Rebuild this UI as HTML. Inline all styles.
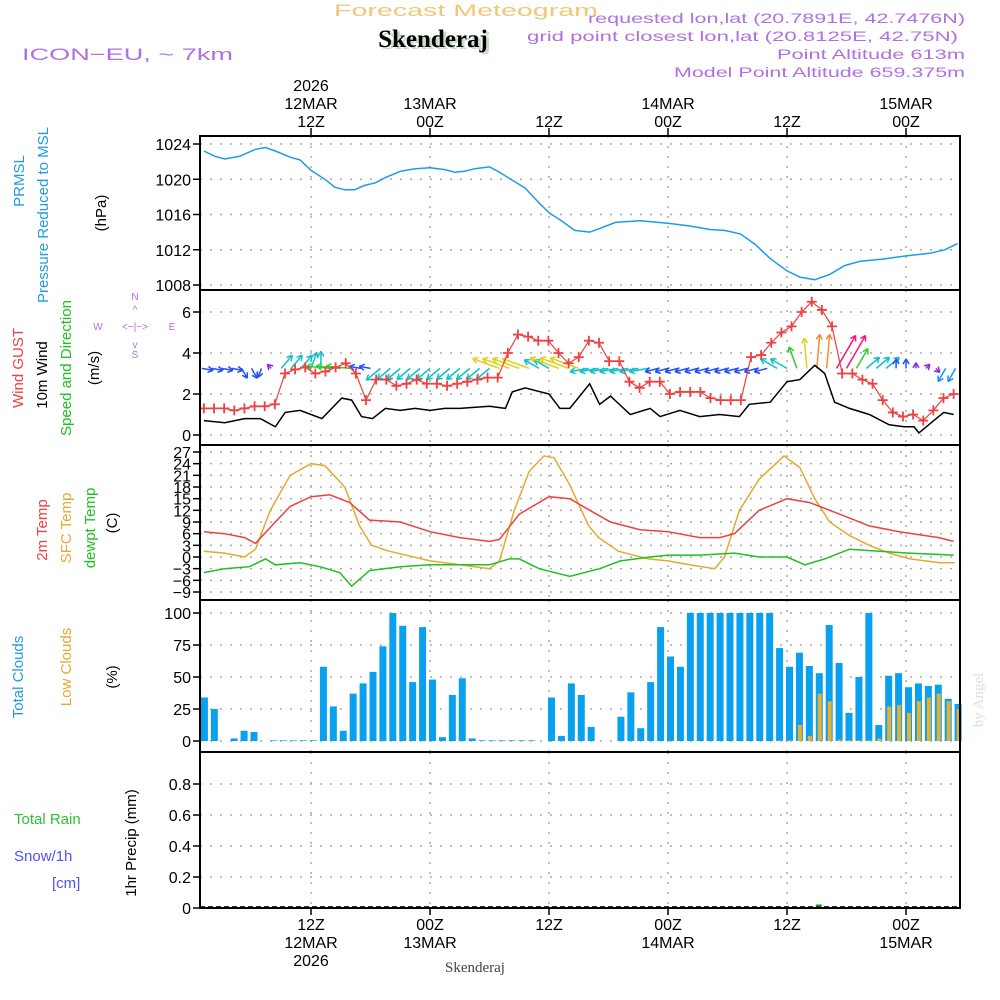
<!DOCTYPE html>
<html><head><meta charset="utf-8"><style>
body{margin:0;background:#fff}
svg{display:block;font-family:"Liberation Sans",sans-serif}
</style></head><body>
<svg id="chart" width="1000" height="1000" viewBox="0 0 1000 1000" xmlns="http://www.w3.org/2000/svg">
<rect width="1000" height="1000" fill="#fff"/>
<g>
<text x="334" y="16" font-size="17" fill="#f0c878" textLength="264" lengthAdjust="spacingAndGlyphs">Forecast Meteogram</text>
<text x="436" y="49" font-size="25" font-weight="bold" fill="#c8dcc8" text-anchor="middle" font-family="Liberation Serif,serif">Skenderaj</text>
<text x="433" y="47" font-size="25" font-weight="bold" fill="#000" text-anchor="middle" font-family="Liberation Serif,serif">Skenderaj</text>
<text x="22" y="60" font-size="17" fill="#b070e0" textLength="211" lengthAdjust="spacingAndGlyphs">ICON−EU, ~ 7km</text>
<g font-size="14" fill="#b070e0">
<text x="588" y="23" textLength="377" lengthAdjust="spacingAndGlyphs">requested lon,lat (20.7891E, 42.7476N)</text>
<text x="527" y="41" textLength="431" lengthAdjust="spacingAndGlyphs">grid point closest lon,lat (20.8125E, 42.75N)</text>
<text x="777" y="59" textLength="188" lengthAdjust="spacingAndGlyphs">Point Altitude 613m</text>
<text x="674" y="77" textLength="291" lengthAdjust="spacingAndGlyphs">Model Point Altitude 659.375m</text>
</g>
</g>
<g id="grid"></g>
<g id="marks"></g>
<g id="axes"></g>
<g font-size="15">
<text transform="translate(24,181) rotate(-90)" fill="#1e9be8" text-anchor="middle">PRMSL</text>
<text transform="translate(48,215) rotate(-90)" fill="#1e9be8" text-anchor="middle">Pressure Reduced to MSL</text>
<text transform="translate(106,213) rotate(-90)" fill="#000" text-anchor="middle">(hPa)</text>
<text transform="translate(23,368) rotate(-90)" fill="#f04040" text-anchor="middle">Wind GUST</text>
<text transform="translate(47,375) rotate(-90)" fill="#000" text-anchor="middle">10m Wind</text>
<text transform="translate(71,368) rotate(-90)" fill="#20c020" text-anchor="middle">Speed and Direction</text>
<text transform="translate(99,368) rotate(-90)" fill="#000" text-anchor="middle">(m/s)</text>
<g font-size="10" fill="#b070e0" text-anchor="middle">
<text x="135" y="300">N</text><text x="135" y="358">S</text><text x="98" y="330">W</text><text x="172" y="330">E</text>
<text x="135" y="330">&lt;−|−&gt;</text><text x="135" y="313">^</text><text x="135" y="348">v</text>
</g>
<text transform="translate(47,530) rotate(-90)" fill="#f04040" text-anchor="middle">2m Temp</text>
<text transform="translate(71,528) rotate(-90)" fill="#e8a830" text-anchor="middle">SFC Temp</text>
<text transform="translate(95,528) rotate(-90)" fill="#20c020" text-anchor="middle">dewpt Temp</text>
<text transform="translate(117,523) rotate(-90)" fill="#000" text-anchor="middle">(C)</text>
<text transform="translate(23,677) rotate(-90)" fill="#1e9be8" text-anchor="middle">Total Clouds</text>
<text transform="translate(71,667) rotate(-90)" fill="#e8a830" text-anchor="middle">Low Clouds</text>
<text transform="translate(117,677) rotate(-90)" fill="#000" text-anchor="middle">(%)</text>
<text x="14" y="824" fill="#30c030">Total  Rain</text>
<text x="14" y="861" fill="#5050ff">Snow/1h</text>
<text x="52" y="888" fill="#5050ff">[cm]</text>
<text transform="translate(136,843) rotate(-90)" fill="#000" text-anchor="middle">1hr Precip (mm)</text>
</g>
<text transform="translate(983,700) rotate(-90)" font-size="15" fill="#d8e4d8" text-anchor="middle" font-family="Liberation Serif,serif">by Angel</text>
<text x="475" y="972" font-size="15" fill="#444" text-anchor="middle" font-family="Liberation Serif,serif">Skenderaj</text>
</svg>
<script>
const timeTickHours=[12,24,36,48,60,72];
const topLabels1=["12Z","00Z","12Z","00Z","12Z","00Z"];
const topLabels2=["12MAR","13MAR","","14MAR","","15MAR"];
const presTicks=[1008,1012,1016,1020,1024];
const presHours=[1.2,2.3,3.3,4.8,6.4,7.4,8.4,9.9,10.9,12,13.4,14.4,15.4,16.4,17.4,18.5,19.5,21,22.5,24,25.5,26.5,27.5,28.5,30,31,32,33.6,35,36,37.1,38.6,40.1,41.1,42.7,45.2,48,50.2,52.2,53.7,55.3,56.8,58.3,60,61.3,62.8,64.3,65.8,67.4,69.4,72,74.4,75.9,77.2];
const presVals=[1023.2,1022.6,1022.3,1022.6,1023.4,1023.6,1023.2,1022.5,1022.2,1021.0,1020.0,1019.1,1018.8,1018.8,1019.3,1019.6,1020.2,1020.9,1021.2,1021.3,1021.1,1020.8,1020.9,1021.2,1021.4,1020.8,1020.1,1019.0,1017.3,1016.2,1015.4,1014.2,1014.0,1014.4,1015.1,1015.3,1015.0,1014.7,1014.3,1014.2,1013.8,1012.6,1011.0,1009.6,1008.9,1008.6,1009.2,1010.2,1010.7,1010.9,1011.3,1011.6,1012.0,1012.7];
const windTicks=[0,2,4,6];
const windHours=[1.2,3.3,5.3,6.9,8.4,9.4,10.9,13.1,15.1,16.1,17.1,18.2,19.5,21,22.5,24,25.5,27,30,31.6,32.3,33.6,36,37.1,38.1,40.1,41.1,42.2,44.2,46.2,47.2,49.2,51.2,53.2,55.2,56.2,58.3,60,61.3,62.8,63.8,64.8,66.3,68.3,70.3,71.8,72.8,73.3,74.8,75.8,76.8];
const windVals=[0.7,0.6,0.8,0.8,0.4,1.1,1.2,0.8,1.8,1.7,0.9,0.8,1.3,1.2,1.3,1.2,1.3,1.3,1.4,1.3,2.1,2.3,2.0,1.3,1.3,2.5,1.5,1.9,1.0,1.3,0.9,1.2,0.9,1.0,0.9,1.5,1.6,2.6,2.7,3.4,3.0,1.6,1.3,1.0,0.5,0.4,0.4,0.1,0.7,1.1,1.0];
const gustVals=[1.3,1.3,1.3,1.2,1.3,1.4,1.4,1.5,3.0,3.2,3.3,3.0,3.1,3.3,3.5,3.0,1.7,2.7,2.7,2.4,2.5,2.7,2.5,2.5,2.4,2.5,2.6,2.7,2.8,2.8,4.0,4.9,4.8,4.6,4.6,4.0,3.5,3.8,4.6,4.5,3.6,3.6,2.6,2.3,2.6,2.6,2.0,2.1,2.1,2.1,1.8,1.7,1.7,1.7,3.8,3.9,4.5,5.0,5.3,6.0,6.5,6.1,5.3,3.0,3.0,2.7,2.5,1.7,1.1,0.9,1.0,0.7,1.2,1.8,2.0];
const arrowDir=[100,100,100,100,150,150,200,315,40,40,40,20,0,275,275,275,280,280,230,230,230,230,230,230,230,230,230,230,230,230,290,290,290,290,300,300,290,290,290,260,260,260,260,260,260,260,255,255,255,255,255,255,255,255,255,255,255,255,300,300,340,355,5,5,30,30,30,50,50,50,0,0,0,45,135,210,210];
const arrowSpd=[3,3,3,3,3,3,2.5,1.5,4.5,4.5,4.5,4.5,4.5,6.5,6.5,6.5,3,3,4.8,4.5,4.5,4.5,4.5,4.5,4.5,4.5,4.5,4.5,4.5,4.5,7.5,7.5,7.5,7.5,4.5,4.5,8,8,8,5,5,5,5,5,5,5,3.5,3.5,3.5,3.5,3.5,3.5,3.5,3.5,3.5,3.5,3.5,3.5,5,5,6,8,9,9,10,10,6,4.5,4.5,4.5,2.5,2.5,1.5,1.5,1.5,4,4];
const tempTicks=[-9,-6,-3,0,3,6,9,12,15,18,21,24,27];
const sfcHours=[1.2,3.3,5.3,6.4,7.9,9.9,12,13.4,15.4,16.9,18.1,19.9,24,27,30,31,32.5,34,35.5,36.5,38,40,41,43,46,48,50.2,52.7,53.7,55.2,57.2,59.7,61.3,62.8,64.3,66.3,68.3,70.3,72.4,75.4,76.9];
const sfcVals=[1.5,1,0,2,12,21,24,23.5,18,8,3,1.5,-1,-2,-3,-1,12,22,26,25.5,19,8,5,1.5,-0.5,-1,-2,-3,0,12,20,26,23,15,9,5.5,3,1,-0.5,-1.5,-1.5];
const t2Hours=[1.2,3.3,5.3,6.4,8.4,9.9,12,13.9,15.9,17.9,21,24,27,30,31,33,36,38.1,40.1,42.2,45.2,48,51.2,53.2,54.7,57.2,60,62.3,64.3,66.3,68.3,71.3,75.3,76.8];
const t2Vals=[6.5,6,5,3.5,9,13,15.5,16,14,9.5,9,6.5,5,4,4.5,11,15.5,15,12,9,7,6.5,5,5,6,12,15,14,12,10,8,6.5,5,4];
const dewHours=[1.2,3.3,5.8,7.4,8.4,10.9,12.9,14.9,16.1,17.9,21,24,27,30,32,33,35,38.1,41.1,43.2,46.2,48,51.2,54.7,57.2,60,61.8,63.8,66.3,69.3,72.3,76.8];
const dewVals=[-4,-3,-2.5,-0.5,-2,-1.5,-2.5,-4,-7.5,-3.5,-2.5,-2,-2,-2,-0.5,-0.5,-3,-5,-3,-1,0,0.5,0.5,1,0,0,-2,-0.5,2,1.5,1,0.5];
const cloudTicks=[0,25,50,75,100];
const totalClouds=[34,25,0,2,8,7,0,0.5,0.5,0.5,0.5,0.5,58,27,8,37,45,54,74,100,90,46,89,48,3,36,49,2,0.5,0.5,0.5,0.5,0.5,0.5,0,34,4,45,36,11,0,0,19,38,10,46,89,66,58,100,100,100,100,100,100,100,100,100,72.6,58,69,58.6,53,90.6,61,22,50,100,12.5,51,53,42,45,43,44,33,29];
const lowClouds=[0,0,0,0,0,0,0,0,0,0,0,0,0,0,0,0,0,0,0,0,0,0,0,0,0,0,0,0,0,0,0,0,0,0,0,0,0,0,0,0,0,0,0,0,0,0,0,0,0,0,0,0,0,0,0,0,0,0,0.5,0.5,12.5,4,37,31,1,0.5,0.5,0.5,2,27,28,22,31,34,37,31,25];
const precipTicks=[0,0.2,0.4,0.6,0.8];
const precipVals=[0,0,0,0,0,0,0,0,0,0,0,0,0,0,0,0,0,0,0,0,0,0,0,0,0,0,0,0,0,0,0,0,0,0,0,0,0,0,0,0,0,0,0,0,0,0,0,0,0,0,0,0,0,0,0,0,0,0,0,0,0,0,0.01,0,0,0,0,0,0,0,0,0,0,0,0,0,0];

const NS='http://www.w3.org/2000/svg';
const X0=200,X1=960;
const xh=h=>311+(h-12)*9.917;
const lin=(v0,y0,v1,y1)=>v=>y0+(v-v0)*(y1-y0)/(v1-v0);
const yP=lin(1008,285,1024,144);
const yW=lin(0,435,6,312);
const yT=lin(-9,592,27,452);
const yC=lin(0,741,100,613);
const yR=lin(0,908,0.8,784);
const panels=[[136,290],[290,445],[445,600],[600,752],[752,908]];
function el(tag,attrs,parent){const e=document.createElementNS(NS,tag);for(const k in attrs)e.setAttribute(k,attrs[k]);parent.appendChild(e);return e;}
const G=document.getElementById('grid'),M=document.getElementById('marks'),A=document.getElementById('axes');
panels.forEach(p=>{timeTickHours.forEach(h=>{const l=el('line',{x1:xh(h),x2:xh(h),y1:p[0],y2:p[1],stroke:'#aaa','stroke-width':1.5,'stroke-dasharray':'2,8'},G);

});});
function yAxis(ticks,f,lab,name){ticks.forEach(t=>{const y=f(t);
const g=el('line',{x1:X0,x2:X1,y1:y,y2:y,stroke:'#aaa','stroke-width':1.5,'stroke-dasharray':'2,8'},G);


el('line',{x1:X0-7,x2:X0,y1:y,y2:y,stroke:'#000','stroke-width':1.5},A);
const tx=el('text',{x:X0-9,y:y+6,'font-size':16,'text-anchor':'end',fill:'#000'},A);


tx.textContent=lab(t);});}
yAxis(presTicks,yP,t=>t,'pressure');
yAxis(windTicks,yW,t=>t,'wind');
yAxis(tempTicks,yT,t=>t<0?'−'+(-t):t,'temp');
yAxis(cloudTicks,yC,t=>t,'cloud');
yAxis(precipTicks,yR,t=>t===0?'0':t.toFixed(1),'precip');
function line(hs,vs,f,color,name,w){const d=vs.map((v,i)=>(i?'L':'M')+xh(hs[i]).toFixed(1)+','+f(v).toFixed(1)).join('');
const p=el('path',{d:d,fill:'none',stroke:color,'stroke-width':w||1.5},M);

}
line(presHours,presVals,yP,'#1e9be8','pressure-line');
totalClouds.forEach((v,i)=>{const h=i+1,x=xh(h)-1,y=yC(v);
const r=el('rect',{x:x,y:y,width:7,height:741-y,fill:'#0aa0f0'},M);

});
lowClouds.forEach((v,i)=>{if(v<=0)return;const h=i+1,x=xh(h)+1,y=yC(v);
const r=el('rect',{x:x,y:y,width:4,height:741-y,fill:'#e8b030'},M);

});
line(sfcHours,sfcVals,yT,'#e8a830','sfc-temp-line');
line(t2Hours,t2Vals,yT,'#f04040','temp-2m-line');
line(dewHours,dewVals,yT,'#20c020','dewpoint-line');
function acolor(s){if(s<2)return '#8a2be2';if(s<3.8)return '#2050ff';if(s<4.3)return '#1e90ff';if(s<5.6)return '#10c0c8';if(s<7)return '#30d030';if(s<8.5)return '#e0d020';if(s<9.5)return '#f09030';return '#ff1080';}
arrowDir.forEach((d,i)=>{const h=i+1,x=xh(h),y=yW(3.25),L=arrowSpd[i]*3.8,a=d*Math.PI/180;
const x2=x+L*Math.sin(a),y2=y-L*Math.cos(a),c=acolor(arrowSpd[i]);
const g=el('g',{stroke:c,'stroke-width':1.5,fill:'none'},M);


el('line',{x1:x,y1:y,x2:x2,y2:y2},g);
[150,-150].forEach(o=>{const b=a+o*Math.PI/180;el('line',{x1:x2,y1:y2,x2:x2+6*Math.sin(b),y2:y2-6*Math.cos(b)},g);});});
line(windHours,windVals,yW,'#000','wind-speed-line');
const gh=gustVals.map((v,i)=>1.2+i*75.6/(gustVals.length-1));
line(gh,gustVals,yW,'#f04040','gust-line',1.2);
gustVals.forEach((v,i)=>{const x=xh(gh[i]),y=yW(v);
const g=el('path',{d:`M${x-5},${y}h10M${x},${y-5}v10`,stroke:'#f04040','stroke-width':1.8,fill:'none'},M);

});
precipVals.forEach((v,i)=>{if(v<=0)return;const x=xh(i+1),y=yR(v);
const r=el('rect',{x:x-1,y:y-2,width:6,height:908-y+2,fill:'#20a020'},M);

});
const zl=el('line',{x1:X0,x2:X1,y1:907,y2:907,stroke:'#333','stroke-width':2,'stroke-dasharray':'5,3'},M);


panels.forEach((p,i)=>{const r=el('rect',{x:X0,y:p[0],width:X1-X0,height:p[1]-p[0],fill:'none',stroke:'#000','stroke-width':2},A);

});
timeTickHours.forEach((h,i)=>{const x=xh(h);
el('line',{x1:x,x2:x,y1:128,y2:136,stroke:'#000','stroke-width':1.5},A);
el('line',{x1:x,x2:x,y1:908,y2:915,stroke:'#000','stroke-width':1.5},A);
[[topLabels1[i],127],[topLabels2[i],109]].forEach(([s,y])=>{if(!s)return;const t=el('text',{x:x,y:y,'font-size':16,'text-anchor':'middle',fill:'#000'},A);


t.textContent=s;});
[[topLabels1[i],930],[topLabels2[i],948]].forEach(([s,y])=>{if(!s)return;const t=el('text',{x:x,y:y,'font-size':16,'text-anchor':'middle',fill:'#000'},A);


t.textContent=s;});
if(i===0){[[91],[966]].forEach(([y])=>{const t=el('text',{x:x,y:y,'font-size':16,'text-anchor':'middle',fill:'#000'},A);


t.textContent='2026';});}});
</script>
</body></html>
